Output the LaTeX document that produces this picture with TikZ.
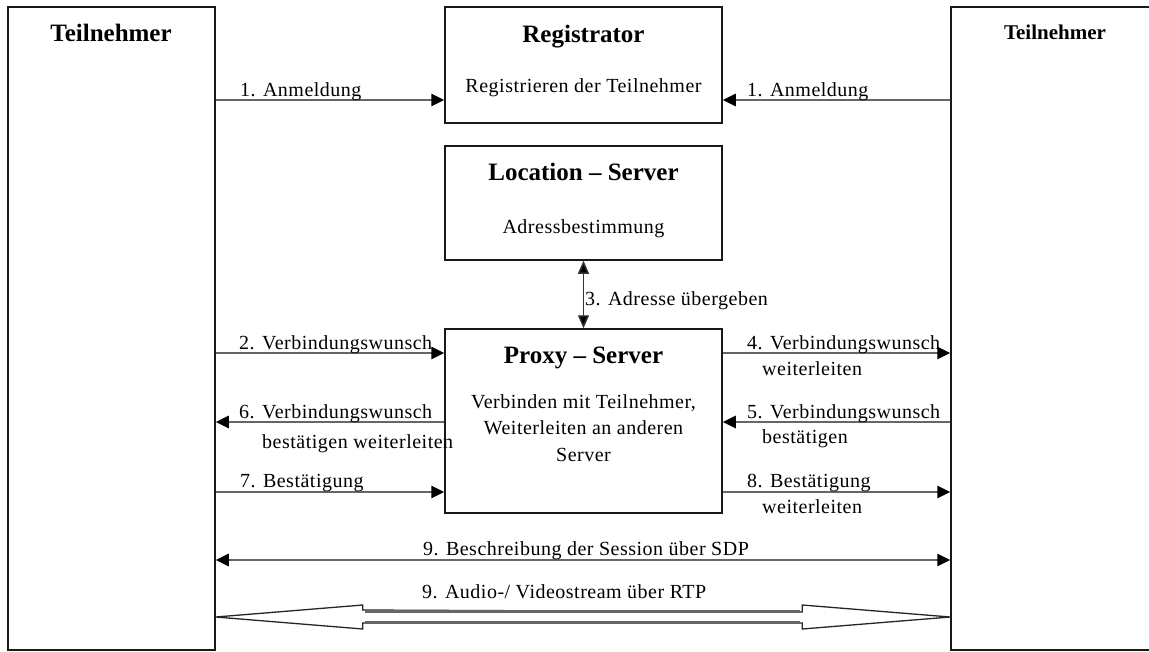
\documentclass[tikz,border=0pt]{standalone}
\usepackage{fontspec}
\setmainfont{Liberation Serif}
\newfontfamily\lblfont[LetterSpace=2.5]{Liberation Serif}
\usetikzlibrary{arrows.meta,calc}

\tikzset{
  box/.style={draw=black!90, line width=1.5pt, inner sep=0pt},
  msg/.style={draw=black!60, line width=2.6pt,
    -{Triangle[length=13pt,width=12pt,fill=black,color=black]}},
  dmsg/.style={draw=black!60, line width=2.6pt,
    {Triangle[length=13pt,width=12pt,fill=black,color=black]}-{Triangle[length=13pt,width=12pt,fill=black,color=black]}},
  vmsg/.style={draw=black!80, line width=1.4pt,
    {Triangle[length=13pt,width=11pt,fill=black]}-{Triangle[length=13pt,width=11pt,fill=black]}},
  lbl/.style={anchor=base west, inner sep=0pt, font=\lblfont\fontsize{20}{26}\selectfont},
  txt/.style={anchor=base, inner sep=0pt, font=\lblfont\fontsize{20}{26}\selectfont},
  ttl/.style={anchor=base, inner sep=0pt, font=\fontsize{25}{28}\selectfont\bfseries},
}

\begin{document}
\begin{tikzpicture}[x=1pt, y=-1pt]
  \useasboundingbox (0,0) rectangle (1149,651);
  \fill[white] (0,0) rectangle (1149,651);
  \clip (0,0) rectangle (1149,651);

  % participants and servers
  \node[box, minimum width=207pt, minimum height=643pt] (tl) at (111.5,328.5) {};
  \node[box, minimum width=210pt, minimum height=643pt] (tr) at (1056,328.5) {};
  \node[box, minimum width=277pt, minimum height=116pt] (reg) at (583.5,65) {};
  \node[box, minimum width=277pt, minimum height=114pt] (loc) at (583.5,203) {};
  \node[box, minimum width=277pt, minimum height=184pt] (proxy) at (583.5,421) {};

  % titles and descriptions
  \node[ttl] (tlt) at (111,41) {Teilnehmer};
  \node[ttl, font=\fontsize{21}{24}\selectfont\bfseries] (trt) at (1055,39) {Teilnehmer};
  \node[ttl] (regt) at (583.5,42) {Registrator};
  \node[txt] (regd) at (583.5,92) {Registrieren der Teilnehmer};
  \node[ttl] (loct) at (583.5,180) {Location -- Server};
  \node[txt] (locd) at (583.5,233) {Adressbestimmung};
  \node[ttl] (prt) at (583.5,363) {Proxy -- Server};
  \node[txt] (prd1) at (583.5,408) {Verbinden mit Teilnehmer,};
  \node[txt] (prd2) at (583.5,434) {Weiterleiten an anderen};
  \node[txt] (prd3) at (583.5,461) {Server};

  % message levels
  \coordinate (y1) at (0,100);
  \coordinate (y2) at (0,353);
  \coordinate (y3) at (0,422);
  \coordinate (y4) at (0,492);
  \coordinate (y5) at (0,560);
  \coordinate (y6) at (0,617);

  % 1. registration
  \draw[msg] (tl.east |- y1) -- (reg.west |- y1);
  \draw[msg] (tr.west |- y1) -- (reg.east |- y1);
  \node[lbl] (l1a) at (240,96) {1. Anmeldung};
  \node[lbl] (l1b) at (747,96) {1. Anmeldung};

  % 3. address lookup
  \draw[vmsg] (loc.south) -- (proxy.north);
  \node[lbl] (l3) at (585,305) {3. Adresse übergeben};

  % 2.-8. connection setup
  \draw[msg] (tl.east |- y2) -- (proxy.west |- y2);
  \draw[msg] (proxy.west |- y3) -- (tl.east |- y3);
  \draw[msg] (tl.east |- y4) -- (proxy.west |- y4);
  \draw[msg] (proxy.east |- y2) -- (tr.west |- y2);
  \draw[msg] (tr.west |- y3) -- (proxy.east |- y3);
  \draw[msg] (proxy.east |- y4) -- (tr.west |- y4);

  \node[lbl] (l2) at (239,349) {2. Verbindungswunsch};
  \node[lbl] (l6a) at (239,418) {6. Verbindungswunsch};
  \node[lbl] (l6b) at (262,448) {bestätigen weiterleiten};
  \node[lbl] (l7) at (240,487) {7. Bestätigung};
  \node[lbl] (l4a) at (747,349) {4. Verbindungswunsch};
  \node[lbl] (l4b) at (762,375) {weiterleiten};
  \node[lbl] (l5a) at (747,418) {5. Verbindungswunsch};
  \node[lbl] (l5b) at (762,443) {bestätigen};
  \node[lbl] (l8a) at (747,487) {8. Bestätigung};
  \node[lbl] (l8b) at (762,513) {weiterleiten};

  % 9. session description
  \draw[dmsg] (tl.east |- y5) -- (tr.west |- y5);
  \node[lbl] (l9a) at (423,555) {9. Beschreibung der Session über SDP};

  % 9. media stream (hollow double arrow)
  \coordinate (ml) at (tl.east |- y6);
  \coordinate (mr) at (tr.west |- y6);
  \draw[black!85, line width=1.3pt, line join=miter, fill=white]
    (ml) -- ++(147,-12) -- ++(0,5) -- ($(mr)+(-148,-5)$) -- ++(0,-7)
    -- (mr) -- ($(mr)+(-148,12)$) -- ++(0,-6) -- ($(ml)+(147,6)$) -- ++(0,6) -- cycle;
  \draw[black!60, line width=2.4pt] ($(ml)+(149,-5.5)$) -- ($(mr)+(-150,-5.5)$);
  \draw[black!60, line width=2.4pt] ($(ml)+(149,5.5)$) -- ($(mr)+(-150,5.5)$);
  \node[lbl] (l9b) at (422,598) {9. Audio-/ Videostream über RTP};
\end{tikzpicture}
\end{document}
